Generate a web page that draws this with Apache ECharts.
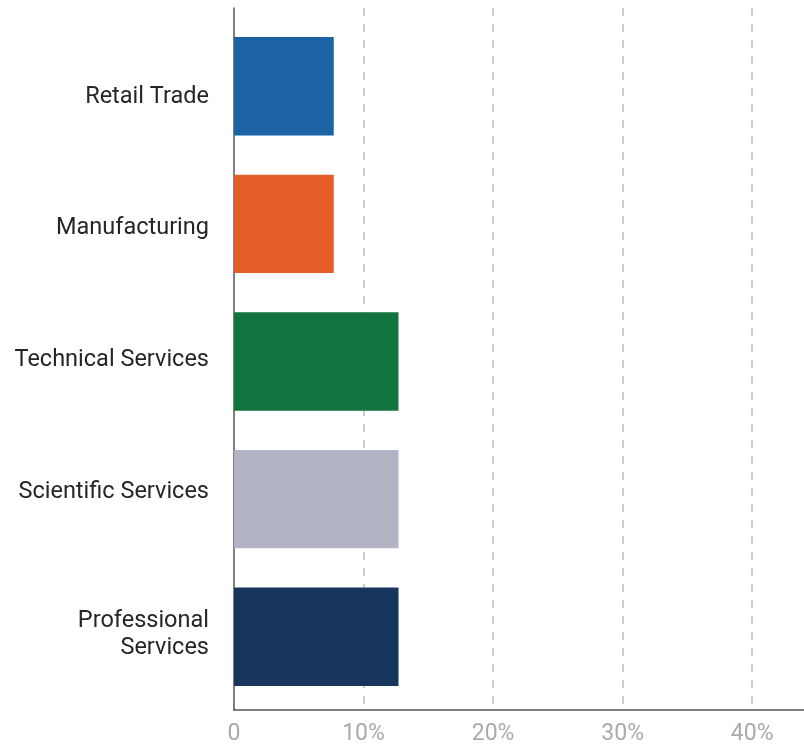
<!DOCTYPE html>
<html>
<head>
<meta charset="utf-8">
<script src="https://cdn.jsdelivr.net/npm/echarts@6/dist/echarts.min.js"></script>
<style>
html,body{margin:0;padding:0;background:#fff;}
#chart{width:804px;height:747px;}
</style>
</head>
<body>
<div id="chart"></div>
<script>
const categories = ['Retail Trade', 'Manufacturing', 'Technical Services', 'Scientific Services', 'Professional\nServices'];
const values = [7.7, 7.7, 12.7, 12.7, 12.7];
const barColors = ['#1b63a5', '#e45d27', '#12743e', '#b2b4c6', '#17365e'];
const xTickMax = 44;
const xTickInterval = 10;

const chart = echarts.init(document.getElementById('chart'), null, {renderer: 'canvas'});
const fontFamily = 'Roboto, "Noto Sans", sans-serif';
const labelStyle = {color: '#262626', fontSize: 23.5, fontFamily: fontFamily, lineHeight: 27, align: 'right'};

chart.setOption({
  animation: false,
  grid: [
    {left: 234, right: 0, top: 17.5, bottom: 41.5},
    {left: 234, right: 0, top: 8, bottom: 37},
    {left: 234, right: 0, top: 31, bottom: 57.5}
  ],
  xAxis: [
    {gridIndex: 0, type: 'value', min: 0, max: xTickMax, interval: xTickInterval, show: false},
    {
      gridIndex: 1, type: 'value', min: 0, max: xTickMax, interval: xTickInterval,
      axisLine: {show: true, lineStyle: {color: '#555', width: 1.5}},
      axisTick: {show: false},
      axisLabel: {
        show: true, showMaxLabel: false, margin: 13,
        color: '#a9a9b1', fontSize: 23, fontFamily: fontFamily,
        formatter: v => v === 0 ? '0' : (v % xTickInterval === 0 ? v + '%' : '')
      },
      splitLine: {
        show: true, showMinLine: false, showMaxLine: false,
        lineStyle: {color: '#bdbdbd', width: 1.5, type: [8, 8]}
      }
    },
    {gridIndex: 2, type: 'value', min: 0, max: xTickMax, show: false}
  ],
  yAxis: [
    {
      gridIndex: 0, type: 'category', data: categories, inverse: true,
      axisLine: {show: false}, axisTick: {show: false}, axisLabel: {show: false}, splitLine: {show: false}
    },
    {
      gridIndex: 1, type: 'value', min: 0, max: 1,
      axisLine: {show: true, lineStyle: {color: '#555', width: 1.5}},
      axisTick: {show: false}, axisLabel: {show: false}, splitLine: {show: false}
    },
    {
      gridIndex: 2, type: 'category', data: categories, inverse: true,
      axisLine: {show: false}, axisTick: {show: false}, splitLine: {show: false},
      axisLabel: Object.assign({
        show: true, margin: 25,
        formatter: v => v.indexOf('\n') >= 0
          ? '{s| }\n' + v.split('\n').map(t => '{p|' + t + '}').join('\n')
          : v,
        rich: {
          s: {fontSize: 10, lineHeight: 22, align: 'right'},
          p: labelStyle
        }
      }, labelStyle)
    }
  ],
  series: [{
    type: 'bar',
    xAxisIndex: 0,
    yAxisIndex: 0,
    barCategoryGap: '28.5%',
    z: 5,
    data: values.map((v, i) => ({value: v, itemStyle: {color: barColors[i]}}))
  }]
});
</script>
</body>
</html>
